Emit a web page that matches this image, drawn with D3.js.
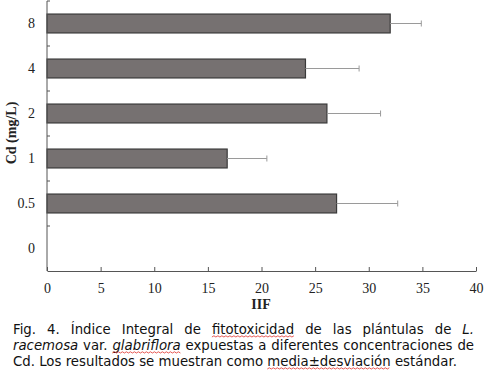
<!DOCTYPE html>
<html>
<head>
<meta charset="utf-8">
<script src="https://cdn.jsdelivr.net/npm/d3@7"></script>
<style>
  body { margin: 0; background: #fff; }
</style>
</head>
<body>
<script>
var categories = ["0", "0.5", "1", "2", "4", "8"];
var means = [0, 27.0, 16.8, 26.1, 24.1, 32.0];
var sds = [0, 5.7, 3.7, 5.0, 5.0, 2.9];
var xTicks = [0, 5, 10, 15, 20, 25, 30, 35, 40];

var captionLines = [
  [{t: "Fig."}, {t: "4."}, {t: "Índice"}, {t: "Integral"}, {t: "de"}, {t: "fitotoxicidad", u: true},
   {t: "de"}, {t: "las"}, {t: "plántulas"}, {t: "de"}, {t: "L.", i: true}],
  [{t: "racemosa", i: true}, {t: "var."}, {t: "glabriflora", i: true, u: true}, {t: "expuestas"}, {t: "a"},
   {t: "diferentes"}, {t: "concentraciones"}, {t: "de"}],
  [{t: "Cd."}, {t: "Los"}, {t: "resultados"}, {t: "se"}, {t: "muestran"}, {t: "como"},
   {t: "media±desviación", u: true}, {t: " estándar."}]
];

window.onload = function() {
  var w = 485;
  var h = 373;

  var svg = d3.select("body")
      .append("svg")
      .attr("width", w)
      .attr("height", h);

  var x = d3.scaleLinear().domain([0, 40]).range([47, 476]);
  var y = d3.scaleBand().domain(categories.slice().reverse()).range([1, 271]).paddingInner(0.58).paddingOuter(0.29);
  var yb = d3.scaleBand().domain(categories.slice().reverse()).range([1, 271]);

  var serif = "'Liberation Serif', 'Times New Roman', serif";

  // bars
  svg.selectAll(".bar")
      .data(categories)
      .enter()
      .filter(function(d, i) { return means[i] > 0; })
      .append("rect")
      .attr("class", "bar")
      .attr("x", x(0))
      .attr("y", function(d) { return y(d); })
      .attr("width", function(d) { return x(means[categories.indexOf(d)]) - x(0); })
      .attr("height", y.bandwidth())
      .style("fill", "#767171")
      .style("stroke", "#3a3a3a")
      .style("stroke-width", 1.2);

  // error bars
  var err = svg.selectAll(".err")
      .data(categories.filter(function(d, i) { return means[i] > 0; }))
      .enter()
      .append("g")
      .attr("class", "err")
      .style("stroke", "#9a9a9a")
      .style("stroke-width", 1);

  err.append("line")
      .attr("x1", function(d) { return x(means[categories.indexOf(d)]); })
      .attr("x2", function(d) { var k = categories.indexOf(d); return x(means[k] + sds[k]); })
      .attr("y1", function(d) { return y(d) + y.bandwidth() / 2; })
      .attr("y2", function(d) { return y(d) + y.bandwidth() / 2; });

  err.append("line")
      .attr("x1", function(d) { var k = categories.indexOf(d); return x(means[k] + sds[k]); })
      .attr("x2", function(d) { var k = categories.indexOf(d); return x(means[k] + sds[k]); })
      .attr("y1", function(d) { return y(d) + y.bandwidth() / 2 - 3; })
      .attr("y2", function(d) { return y(d) + y.bandwidth() / 2 + 3; });

  // x axis
  var xAxis = svg.append("g")
      .attr("transform", "translate(0,271)")
      .call(d3.axisBottom(x).tickValues(xTicks).tickSizeInner(-4).tickSizeOuter(0).tickPadding(12));
  xAxis.select(".domain").style("stroke", "#555");
  xAxis.selectAll(".tick line").style("stroke", "#555");
  xAxis.selectAll("text")
      .style("font-family", serif)
      .style("font-size", "14px")
      .style("fill", "#222");

  // y axis, ticks sit on band boundaries
  var yAxis = svg.append("g")
      .attr("transform", "translate(47,0)");
  yAxis.append("line")
      .attr("x1", 0).attr("x2", 0)
      .attr("y1", 1).attr("y2", 271)
      .style("stroke", "#555");
  yAxis.selectAll(".ytick")
      .data(categories.slice(1))
      .enter()
      .append("line")
      .attr("x1", 0).attr("x2", 3)
      .attr("y1", function(d) { return yb(d) + yb.bandwidth(); })
      .attr("y2", function(d) { return yb(d) + yb.bandwidth(); })
      .style("stroke", "#555");
  yAxis.append("line")
      .attr("x1", 0).attr("x2", 3)
      .attr("y1", 1).attr("y2", 1)
      .style("stroke", "#555");
  yAxis.selectAll(".ylab")
      .data(categories)
      .enter()
      .append("text")
      .attr("x", -12)
      .attr("y", function(d) { return yb(d) + yb.bandwidth() / 2; })
      .attr("dy", "0.35em")
      .attr("text-anchor", "end")
      .style("font-family", serif)
      .style("font-size", "14px")
      .style("fill", "#222")
      .text(function(d) { return d; });

  // axis titles
  svg.append("text")
      .attr("transform", "translate(16,133) rotate(-90)")
      .attr("text-anchor", "middle")
      .style("font-family", serif)
      .style("font-size", "14px")
      .style("font-weight", "bold")
      .style("fill", "#222")
      .text("Cd (mg/L)");

  svg.append("text")
      .attr("x", 261)
      .attr("y", 309)
      .attr("text-anchor", "middle")
      .style("font-family", serif)
      .style("font-size", "14px")
      .style("font-weight", "bold")
      .style("fill", "#222")
      .text("IIF");

  // caption, justified word by word
  var left = 13, right = 474;
  var baselines = [334, 350, 366];
  var cap = svg.append("g")
      .style("font-family", "'DejaVu Sans', Verdana, sans-serif")
      .style("font-size", "13.3px")
      .style("fill", "#111");

  var m1 = cap.append("text").text("a a");
  var m2 = cap.append("text").text("aa");
  var space = m1.node().getComputedTextLength() - m2.node().getComputedTextLength();
  m1.remove();
  m2.remove();

  captionLines.forEach(function(words, li) {
    var nodes = words.map(function(wd) {
      return cap.append("text")
          .attr("y", baselines[li])
          .style("font-style", wd.i ? "italic" : "normal")
          .text(wd.t);
    });
    var widths = nodes.map(function(n) { return n.node().getComputedTextLength(); });
    var total = d3.sum(widths);
    var gap = li < 2 ? (right - left - total) / (words.length - 1) : space;
    var cx = left;
    nodes.forEach(function(n, k) {
      n.attr("x", cx);
      if (words[k].u) {
        var p = "";
        var x0 = cx + (words[k].t.charAt(0) === " " ? space : 0);
        for (var s = x0; s < cx + widths[k]; s += 2) {
          p += (s === x0 ? "M" : "L") + s + "," + (baselines[li] + 3 + ((s - x0) % 4 === 0 ? 0 : -1.2));
        }
        cap.append("path")
            .attr("d", p)
            .style("fill", "none")
            .style("stroke", "#e0312b")
            .style("stroke-width", 0.8);
      }
      cx += widths[k] + gap;
    });
  });
};
</script>
</body>
</html>
